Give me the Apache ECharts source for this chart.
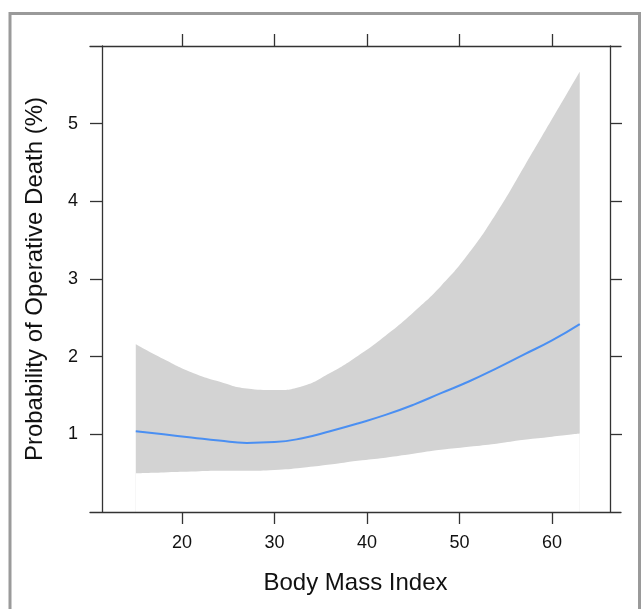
<!DOCTYPE html>
<html>
<head>
<meta charset="utf-8">
<script src="https://cdn.jsdelivr.net/npm/echarts@6/dist/echarts.min.js"></script>
<style>
  html, body { margin: 0; padding: 0; background: #fff; }
  #chart { width: 641px; height: 609px; }
</style>
</head>
<body>
<div id="chart"></div>
<script>
// ---- data ----
const bmi   = [15, 18, 21, 24, 27, 30, 33, 36, 39, 42, 45, 48, 51, 54, 57, 60, 63];
const prob  = [1.04, 1.00, 0.96, 0.92, 0.89, 0.90, 0.95, 1.04, 1.14, 1.25, 1.38, 1.53, 1.68, 1.85, 2.03, 2.21, 2.42];
const upper = [2.16, 1.97, 1.80, 1.68, 1.59, 1.57, 1.62, 1.79, 2.01, 2.27, 2.57, 2.91, 3.33, 3.85, 4.45, 5.06, 5.67];
const lower = [0.50, 0.51, 0.52, 0.53, 0.53, 0.54, 0.57, 0.61, 0.66, 0.70, 0.75, 0.80, 0.84, 0.88, 0.93, 0.97, 1.01];
const xTicks = [20, 30, 40, 50, 60];
const yTicks = [1, 2, 3, 4, 5];
const xTitle = 'Body Mass Index';
const yTitle = 'Probability of Operative Death (%)';

// axis ranges
const xMinData = 11.35, xMaxData = 66.27;   // plot box
const xMinLine = 10.05, xMaxLine = 67.46;   // extended x-axis lines
const yMin = 0, yMax = 6;

const upperPts = bmi.map((x, i) => [x, upper[i]]);
const lowerPts = bmi.map((x, i) => [x, lower[i]]);
const linePts  = bmi.map((x, i) => [x, prob[i]]);

const axisCol = '#333';
const font = 'Liberation Sans, Arial, sans-serif';
const tickStyle = { color: axisCol, width: 1.3 };

const chart = echarts.init(document.getElementById('chart'), null, { renderer: 'canvas' });
chart.setOption({
  animation: false,
  backgroundColor: '#fff',
  graphic: [{
    type: 'rect',
    z: -10,
    shape: { x: 10, y: 13.5, width: 629.5, height: 700 },
    style: { fill: 'none', stroke: '#9a9a9a', lineWidth: 3 }
  }],
  grid: [
    { left: 90, right: 20, top: 46, bottom: 97, containLabel: false },
    { left: 102, right: 31, top: 46, bottom: 97, containLabel: false }
  ],
  xAxis: [
    {
      gridIndex: 0, type: 'value', position: 'bottom', min: xMinLine, max: xMaxLine, z: 10,
      axisLine: { show: true, lineStyle: tickStyle },
      axisTick: { show: true, inside: false, length: 12, customValues: xTicks, lineStyle: tickStyle },
      axisLabel: { show: true, customValues: xTicks, margin: 22, fontSize: 18, color: '#111', fontFamily: font },
      splitLine: { show: false },
      name: xTitle, nameLocation: 'middle', nameGap: 59,
      nameTextStyle: { fontSize: 24, color: '#111', fontFamily: font }
    },
    {
      gridIndex: 0, type: 'value', position: 'top', min: xMinLine, max: xMaxLine, z: 10,
      axisLine: { show: true, lineStyle: tickStyle },
      axisTick: { show: true, inside: false, length: 12, customValues: xTicks, lineStyle: tickStyle },
      axisLabel: { show: false },
      splitLine: { show: false }
    },
    {
      gridIndex: 1, type: 'value', min: xMinData, max: xMaxData, show: false,
      splitLine: { show: false }
    }
  ],
  yAxis: [
    { gridIndex: 0, type: 'value', min: yMin, max: yMax, show: false, splitLine: { show: false } },
    {
      gridIndex: 1, type: 'value', position: 'left', min: yMin, max: yMax, z: 10,
      axisLine: { show: true, lineStyle: tickStyle },
      axisTick: { show: true, inside: false, length: 12, customValues: yTicks, lineStyle: tickStyle },
      axisLabel: { show: true, customValues: yTicks, margin: 24, fontSize: 18, color: '#111', fontFamily: font },
      splitLine: { show: false },
      name: yTitle, nameLocation: 'middle', nameGap: 55, nameRotate: 90,
      nameTextStyle: { fontSize: 24, color: '#111', fontFamily: font }
    },
    {
      gridIndex: 1, type: 'value', position: 'right', min: yMin, max: yMax, z: 10,
      axisLine: { show: true, lineStyle: tickStyle },
      axisTick: { show: true, inside: false, length: 12, customValues: yTicks, lineStyle: tickStyle },
      axisLabel: { show: false },
      splitLine: { show: false }
    }
  ],
  series: [
    {
      name: 'upper', type: 'line', xAxisIndex: 2, yAxisIndex: 1, data: upperPts,
      smooth: 0.5, symbol: 'none', lineStyle: { width: 0, opacity: 0 },
      areaStyle: { color: '#d3d3d3', opacity: 1, origin: 'start' }, silent: true, z: 1
    },
    {
      name: 'lower', type: 'line', xAxisIndex: 2, yAxisIndex: 1, data: lowerPts,
      smooth: 0.5, symbol: 'none', lineStyle: { width: 0, opacity: 0 },
      areaStyle: { color: '#ffffff', opacity: 1, origin: 'start' }, silent: true, z: 2
    },
    {
      name: 'fit', type: 'line', xAxisIndex: 2, yAxisIndex: 1, data: linePts,
      smooth: 0.5, symbol: 'none', lineStyle: { color: '#4a8ff2', width: 2 }, z: 3
    }
  ]
});
</script>
</body>
</html>
